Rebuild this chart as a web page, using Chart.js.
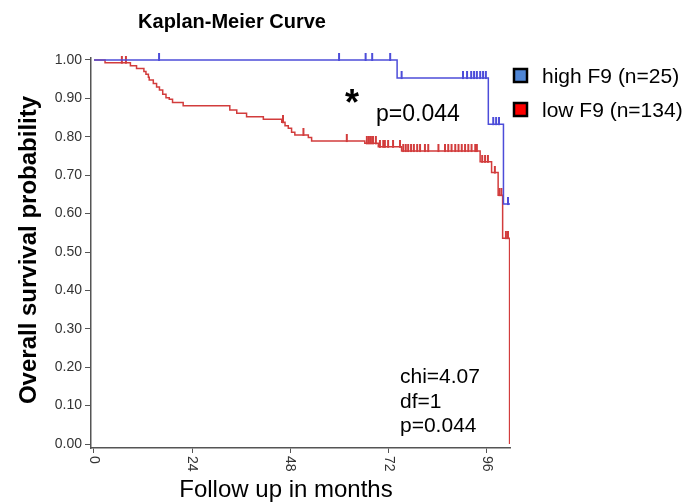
<!DOCTYPE html>
<html>
<head>
<meta charset="utf-8">
<script src="https://cdn.jsdelivr.net/npm/chart.js@4.4.1/dist/chart.umd.min.js"></script>
<style>
  html, body { margin: 0; padding: 0; background: #fff; }
  #wrap { width: 698px; height: 504px; }
</style>
</head>
<body>
<div id="wrap"><canvas id="kmChart" width="698" height="504"></canvas></div>
<script>
const xTicks = [0, 24, 48, 72, 96];
const yTicks = [0, 0.1, 0.2, 0.3, 0.4, 0.5, 0.6, 0.7, 0.8, 0.9, 1.0];

// high F9 group: event times (months) and survival after each step
const highTimes = [0, 74.1, 96.4, 100.1, 101.7];
const highSurv  = [1, 0.953, 0.833, 0.625, 0.625];
const highCensor = [15.9, 59.9, 66.4, 68.0, 72.4, 75.2, 90.2, 91.2, 92.2, 92.9, 93.6,
  94.4, 95.1, 95.8, 97.6, 98.3, 99.0, 101.2];

// low F9 group
const lowTimes = [0, 2.7, 8.9, 10.4, 12.2, 12.7, 13.3, 13.5, 14.5, 15.3, 16.0, 16.8, 17.6,
  18.4, 19.2, 21.8, 33.2, 34.9, 37.3, 41.4, 45.9, 46.7, 47.5, 48.3, 49.1, 52.4, 53.2,
  66.2, 69.5, 75.2, 94.4, 97.2, 98.8, 99.9, 101.6];
const lowSurv = [1, 0.993, 0.985, 0.978, 0.970, 0.963, 0.955, 0.948, 0.939, 0.930, 0.922,
  0.911, 0.902, 0.898, 0.889, 0.881, 0.870, 0.861, 0.852, 0.846, 0.838, 0.829, 0.822,
  0.812, 0.805, 0.798, 0.789, 0.783, 0.774, 0.763, 0.735, 0.707, 0.648, 0.536, 0];
const lowCensor = [6.8, 7.8, 46.2, 51.2, 61.8, 66.7, 67.2, 67.7, 68.2, 68.9, 69.9, 70.7,
  71.1, 71.9, 73.1, 74.8, 75.6, 76.2, 76.8, 77.5, 78.2, 79.0, 79.7, 80.9, 81.7, 84.2,
  85.8, 86.6, 87.4, 88.3, 89.1, 89.9, 90.7, 91.5, 92.3, 93.2, 93.6, 94.9, 95.6, 96.3,
  98.0, 99.1, 99.6, 100.7, 101.2];

const FONT = "'Liberation Sans', Arial, sans-serif";
const BLUE = '#4d4dd9';
const RED = '#d23c3c';

function survAt(times, surv, t) {
  let s = surv[0];
  for (let i = 0; i < times.length; i++) {
    if (times[i] <= t) s = surv[i];
  }
  return s;
}
function curve(times, surv) {
  return times.map((t, i) => ({ x: t, y: surv[i] }));
}
function censorPts(times, surv, cens) {
  return cens.map(t => ({ x: t, y: survAt(times, surv, t) }));
}

// little vertical tick used for censored cases, sits mostly above the line
function tickMark(color) {
  const c = document.createElement('canvas');
  c.width = 4;
  c.height = 14;
  const g = c.getContext('2d');
  g.fillStyle = color;
  g.fillRect(1, 0, 2, 8);
  return c;
}

const whiteBg = {
  id: 'whiteBg',
  beforeDraw(chart) {
    const ctx = chart.ctx;
    ctx.save();
    ctx.fillStyle = '#fff';
    ctx.fillRect(0, 0, chart.width, chart.height);
    ctx.restore();
  }
};

const kmText = {
  id: 'kmText',
  afterDraw(chart) {
    const ctx = chart.ctx;
    const xs = chart.scales.x;
    ctx.save();

    // x tick labels, turned clockwise
    ctx.fillStyle = '#333';
    ctx.font = '14px ' + FONT;
    xTicks.forEach(v => {
      ctx.save();
      ctx.translate(xs.getPixelForValue(v), xs.top + 8);
      ctx.rotate(Math.PI / 2);
      ctx.textAlign = 'left';
      ctx.textBaseline = 'middle';
      ctx.fillText(String(v), 0, 0);
      ctx.restore();
    });

    ctx.fillStyle = '#000';
    ctx.textBaseline = 'alphabetic';

    // title
    ctx.textAlign = 'center';
    ctx.font = 'bold 20px ' + FONT;
    ctx.fillText('Kaplan-Meier Curve', 232, 28);

    // axis titles
    ctx.font = '24px ' + FONT;
    ctx.fillText('Follow up in months', 286, 497);
    ctx.save();
    ctx.translate(36, 250);
    ctx.rotate(-Math.PI / 2);
    ctx.font = 'bold 24px ' + FONT;
    ctx.fillText('Overall survival probability', 0, 0);
    ctx.restore();

    // significance
    ctx.font = 'bold 36px ' + FONT;
    ctx.fillText('*', 352, 115);
    ctx.textAlign = 'left';
    ctx.font = '23px ' + FONT;
    ctx.fillText('p=0.044', 376, 121);

    ctx.font = '21px ' + FONT;
    ctx.fillText('chi=4.07', 400, 383);
    ctx.fillText('df=1', 400, 408);
    ctx.fillText('p=0.044', 400, 432);

    // legend
    const items = [['high F9 (n=25)', '#4f86d6', 68], ['low F9 (n=134)', '#ff0000', 102]];
    items.forEach(([label, fill, top]) => {
      ctx.fillStyle = fill;
      ctx.fillRect(514, top + 1, 13, 13);
      ctx.strokeStyle = '#000';
      ctx.lineWidth = 2.5;
      ctx.strokeRect(514, top + 1, 13, 13);
      ctx.fillStyle = '#000';
      ctx.font = '21px ' + FONT;
      ctx.fillText(label, 542, top + 15);
    });

    ctx.restore();
  }
};

new Chart(document.getElementById('kmChart'), {
  type: 'scatter',
  data: {
    datasets: [
      {
        label: 'high F9 (n=25)',
        data: curve(highTimes, highSurv),
        showLine: true,
        stepped: 'before',
        borderColor: BLUE,
        borderWidth: 1.5,
        pointRadius: 0,
        fill: false
      },
      {
        label: 'low F9 (n=134)',
        data: curve(lowTimes, lowSurv),
        showLine: true,
        stepped: 'before',
        borderColor: RED,
        borderWidth: 1.5,
        pointRadius: 0,
        fill: false
      },
      {
        label: 'high censored',
        data: censorPts(highTimes, highSurv, highCensor),
        showLine: false,
        clip: false,
        pointStyle: tickMark(BLUE),
        pointRadius: 4
      },
      {
        label: 'low censored',
        data: censorPts(lowTimes, lowSurv, lowCensor),
        showLine: false,
        clip: false,
        pointStyle: tickMark(RED),
        pointRadius: 4
      }
    ]
  },
  options: {
    responsive: false,
    animation: false,
    layout: { padding: { top: 58, right: 188, bottom: 0, left: 0 } },
    plugins: {
      legend: { display: false },
      title: { display: false },
      tooltip: { enabled: false }
    },
    scales: {
      x: {
        type: 'linear',
        min: -0.733,
        max: 101.7,
        afterBuildTicks: s => { s.ticks = xTicks.map(v => ({ value: v })); },
        afterFit: s => { s.height = 56; },
        ticks: { display: false },
        grid: { display: true, drawOnChartArea: false, drawTicks: true, tickLength: 5, color: '#555', lineWidth: 1 },
        border: { display: true, color: '#555', width: 1.5 }
      },
      y: {
        type: 'linear',
        min: -0.0104,
        max: 1.0052,
        afterBuildTicks: s => { s.ticks = yTicks.map(v => ({ value: v })); },
        afterFit: s => { s.width = 91; },
        ticks: {
          color: '#333',
          padding: 3,
          font: { family: FONT, size: 14 },
          callback: v => Number(v).toFixed(2)
        },
        grid: { display: true, drawOnChartArea: false, drawTicks: true, tickLength: 6, color: '#555', lineWidth: 1 },
        border: { display: true, color: '#555', width: 1.5 }
      }
    }
  },
  plugins: [whiteBg, kmText]
});
</script>
</body>
</html>
